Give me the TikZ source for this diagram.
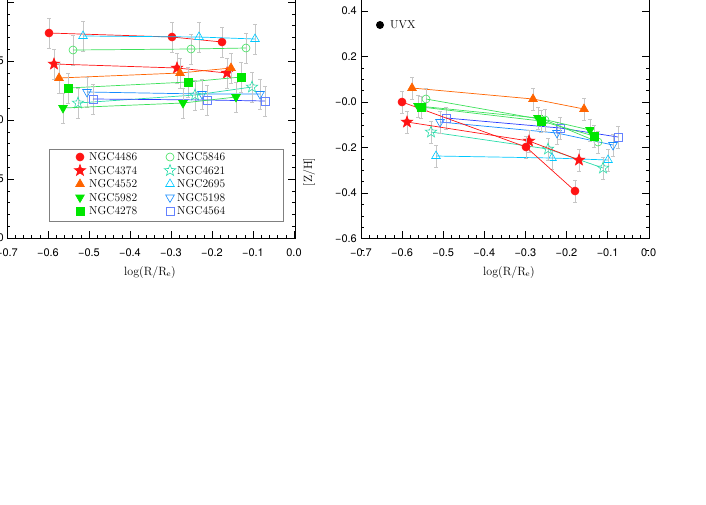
\documentclass[tikz,border=0pt]{standalone}
\usepackage{fontspec}
\newfontfamily\axfont{TeX Gyre Heros}
\usepackage{tikz}
\usetikzlibrary{shapes.geometric}

\definecolor{cRed}{RGB}{255,20,20}
\definecolor{cOrange}{RGB}{255,100,0}
\definecolor{cGreen}{RGB}{0,230,0}
\definecolor{cLGreen}{RGB}{60,225,90}
\definecolor{cCyan}{RGB}{0,200,255}
\definecolor{cAqua}{RGB}{40,220,170}
\definecolor{cSky}{RGB}{20,140,255}
\definecolor{cBlue}{RGB}{40,60,255}
\definecolor{cBlueM}{RGB}{100,130,255}

\tikzset{
    mk/.style={inner sep=0pt, minimum size=8pt, line width=0.6pt},
    mcirc/.style={mk, circle},
    mstar/.style={mk, star, star points=5, star point ratio=2.4, minimum size=12pt},
    mtri/.style={mk, regular polygon, regular polygon sides=3, minimum size=10pt},
    mdtri/.style={mtri, shape border rotate=180},
    msq/.style={mk, rectangle, minimum size=8pt},
    % one style per galaxy
    g4486/.style={mcirc, fill=cRed, draw=cRed},
    g4374/.style={mstar, fill=cRed, draw=cRed},
    g4552/.style={mtri, fill=cOrange, draw=cOrange},
    g5982/.style={mdtri, fill=cGreen, draw=cGreen},
    g4278/.style={msq, fill=cGreen, draw=cGreen},
    g5846/.style={mcirc, draw=cLGreen},
    g4621/.style={mstar, draw=cAqua},
    g2695/.style={mtri, draw=cCyan},
    g5198/.style={mdtri, draw=cSky},
    g4564/.style={msq, draw=cBlueM},
    errbar/.style={gray!45, line width=0.6pt},
    frame/.style={line width=1pt},
    ticklab/.style={font=\axfont\fontsize{11}{12}\selectfont},
    leglab/.style={anchor=west, font=\fontsize{11.5}{12}\selectfont, inner sep=0pt}
}

\begin{document}
\begin{tikzpicture}[x=1pt, y=-1pt]

    %% Background
    \useasboundingbox (0,0) rectangle (706,504);

    %% Left panel: frame and ticks
    \draw[frame] (7,-5) rectangle (295,238);
    \foreach \i in {0,...,35}
    {
    \draw (7+\i*8.2,238) -- (7+\i*8.2,235);
    }
    \foreach \i in {0,...,7}
    {
    \draw (7+\i*41,238) -- (7+\i*41,231);
    }
    \foreach \j in {0,...,20}
    {
    \draw (7,238-\j*11.8) -- (10,238-\j*11.8);
    \draw (295,238-\j*11.8) -- (292,238-\j*11.8);
    }
    \foreach \j in {0,...,4}
    {
    \draw (7,238-\j*59) -- (14,238-\j*59);
    \draw (295,238-\j*59) -- (288,238-\j*59);
    }
    \foreach \j/\t in {0/0,1/5,2/0,3/5}
    {
    \node[ticklab, anchor=east, inner sep=0pt] at (4,238-\j*59) {\t};
    }
    \foreach \i/\t in {0/{−0.7},1/{−0.6},2/{−0.5},3/{−0.4},4/{−0.3},5/{−0.2},6/{−0.1},7/{0.0}}
    {
    \node[ticklab] at (7+\i*41,253) {\t};
    }
    \node[font=\fontsize{12}{13}\selectfont] at (150,272) {log(R/R$_\mathrm{e}$)};

    %% Left panel: data
    \foreach \g/\c/\xa/\ya/\xb/\yb/\xc/\yc in {
        4486/cRed/49/33/172/37/222/42,
        2695/cCyan/83/36/199/37/255/39,
        5846/cLGreen/73/50/191/49/246/48,
        4374/cRed/54/64/177/68/227/73,
        4552/cOrange/59/78/180/73/231/68,
        4278/cLGreen/68/88/188/82/241/77,
        5198/cSky/87/92/202/94/260/94,
        4621/cAqua/78/103/195/95/252/87,
        4564/cBlue/93/99/207/100/265/101,
        5982/cLGreen/63/108/183/103/236/97}
    {
    \foreach \x/\y in {\xa/\ya,\xb/\yb,\xc/\yc}
    {
    \draw[errbar] (\x,\y-15) -- (\x,\y+15) (\x-2,\y-15) -- (\x+2,\y-15) (\x-2,\y+15) -- (\x+2,\y+15);
    }
    \draw[\c, line width=0.7pt] (\xa,\ya) -- (\xb,\yb) -- (\xc,\yc);
    \node[g\g] at (\xa,\ya) {};
    \node[g\g] at (\xb,\yb) {};
    \node[g\g] at (\xc,\yc) {};
    }

    %% Legend
    \draw[gray, fill=white, line width=0.6pt] (49,149) rectangle (283,221);
    \foreach \k/\ga/\gb in {0/4486/5846,1/4374/4621,2/4552/2695,3/5982/5198,4/4278/4564}
    {
    \node[g\ga] at (80,157+\k*13.5) {};
    \node[leglab] at (89,157+\k*13.5) {NGC\ga};
    \node[g\gb] at (170,157+\k*13.5) {};
    \node[leglab] at (177,157+\k*13.5) {NGC\gb};
    }

    %% Right panel: frame and ticks
    \draw[frame] (361,-5) rectangle (649,238);
    \foreach \i in {0,...,35}
    {
    \draw (361+\i*8.22,238) -- (361+\i*8.22,235);
    }
    \foreach \i in {0,...,7}
    {
    \draw (361+\i*41.1,238) -- (361+\i*41.1,231);
    }
    \foreach \j in {-3,...,13}
    {
    \draw (361,102+\j*11.37) -- (364,102+\j*11.37);
    \draw (649,102+\j*11.37) -- (646,102+\j*11.37);
    }
    \foreach \j/\t in {-2/{0.4},-1/{0.2},0/{−0.0},1/{−0.2},2/{−0.4},3/{−0.6}}
    {
    \draw (361,102+\j*45.5) -- (368,102+\j*45.5);
    \draw (649,102+\j*45.5) -- (642,102+\j*45.5);
    \node[ticklab, anchor=east, inner sep=0pt] at (357,102+\j*45.5) {\t};
    }
    \foreach \i/\t in {0/{−0.7},1/{−0.6},2/{−0.5},3/{−0.4},4/{−0.3},5/{−0.2},6/{−0.1},7/{0.0}}
    {
    \node[ticklab] at (361+\i*41.1,253) {\t};
    }
    \node[font=\fontsize{12}{13}\selectfont] at (509,272) {log(R/R$_\mathrm{e}$)};
    \node[font=\fontsize{12}{13}\selectfont, rotate=90] at (309,172) {[Z/H]};

    %% Right panel: data
    \foreach \g/\c/\xa/\ya/\xb/\yb/\xc/\yc in {
        2695/cCyan/436/156/552/158/608/160,
        4621/cAqua/431/132/548/149/603/168,
        5198/cSky/440/122/557/133/613/145,
        4564/cBlue/446/118/560/128/618/137,
        4374/cRed/407/122/529/141/579/160,
        4486/cRed/402/102/526/147/575/191,
        4552/cOrange/412/88/533/99/584/109,
        5846/cLGreen/426/99/545/120/598/142,
        5982/cLGreen/418/106/538/118/590/130,
        4278/cLGreen/421/107/541/121/594/136}
    {
    \foreach \x/\y in {\xa/\ya,\xb/\yb,\xc/\yc}
    {
    \draw[errbar] (\x,\y-11) -- (\x,\y+11) (\x-2,\y-11) -- (\x+2,\y-11) (\x-2,\y+11) -- (\x+2,\y+11);
    }
    \draw[\c, line width=0.7pt] (\xa,\ya) -- (\xb,\yb) -- (\xc,\yc);
    \node[g\g] at (\xa,\ya) {};
    \node[g\g] at (\xb,\yb) {};
    \node[g\g] at (\xc,\yc) {};
    }

    % UVX key
    \node[mcirc, fill=black] (uvx) at (380,25) {};
    \node[leglab] at (390,25) {UVX};

\end{tikzpicture}
\end{document}
